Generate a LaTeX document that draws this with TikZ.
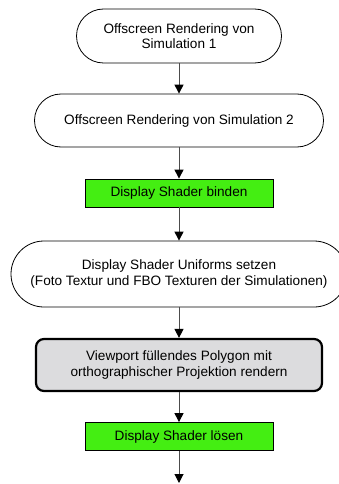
\documentclass[tikz,border=0pt]{standalone}
\usepackage{fontspec}
\setmainfont{Liberation Sans}
\usetikzlibrary{arrows.meta}
\definecolor{stepgreen}{RGB}{68,238,18}
\definecolor{passgray}{RGB}{220,220,222}
\begin{document}
\begin{tikzpicture}[x=1pt,y=-1pt,
  every node/.style={font=\fontsize{13.6}{15.5}\selectfont, align=center, inner sep=0pt},
  pill/.style={draw=black, line width=0.8pt, fill=white},
  greenbox/.style={draw=black, line width=0.8pt, fill=stepgreen, minimum width=188pt, minimum height=28pt},
  renderbox/.style={draw=black, line width=2.2pt, fill=passgray, rounded corners=8pt, minimum width=286pt, minimum height=52pt},
  flow/.style={draw=black!70, line width=1pt, -{Triangle[width=9pt,length=9pt,color=black]}}]
\useasboundingbox (0,0) rectangle (338,484);

\node[pill, rounded corners=27pt, minimum width=205pt, minimum height=54pt] (sim1) at (179,36) {Offscreen Rendering von\\Simulation 1};
\node[pill, rounded corners=26.5pt, minimum width=289pt, minimum height=53pt] (sim2) at (179,120.5) {Offscreen Rendering von Simulation 2};
\node[greenbox] (bind) at (179,193) {Display Shader binden};
\node[pill, rounded corners=33pt, minimum width=336pt, minimum height=66pt] (uni) at (179,274) {Display Shader Uniforms setzen\\(Foto Textur und FBO Texturen der Simulationen)};
\node[renderbox] (poly) at (179,365) {Viewport füllendes Polygon mit\\orthographischer Projektion rendern};
\node[greenbox] (unbind) at (179,436.5) {Display Shader lösen};
\coordinate (out) at (179,483);

\draw[flow] (sim1.south) -- (sim2.north);
\draw[flow] (sim2.south) -- (bind.north);
\draw[flow] (bind.south) -- (uni.north);
\draw[flow] (uni.south) -- (poly.north);
\draw[flow] (poly.south) -- (unbind.north);
\draw[flow] (unbind.south) -- (out);
\end{tikzpicture}
\end{document}
